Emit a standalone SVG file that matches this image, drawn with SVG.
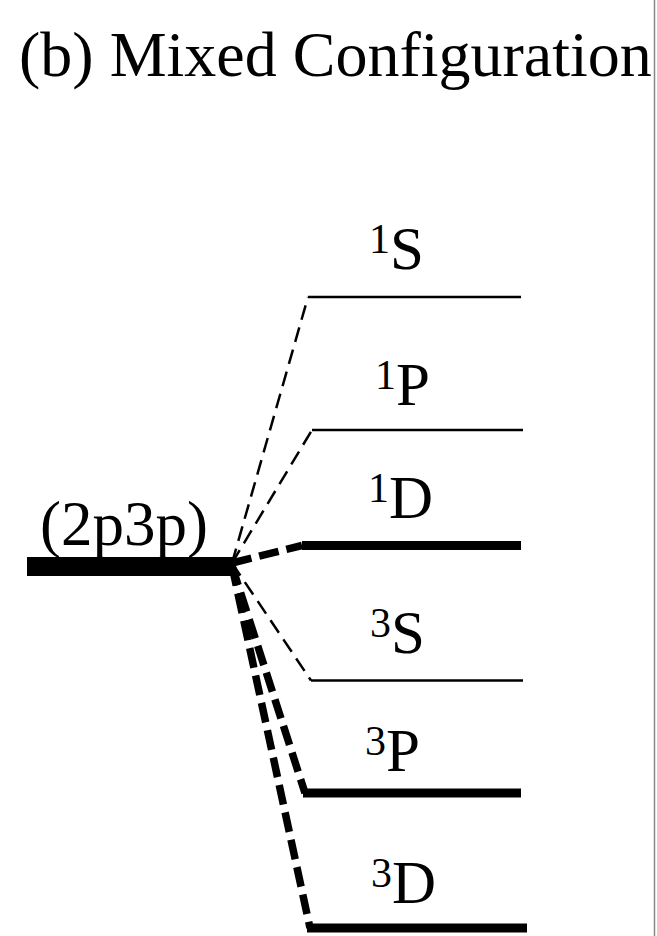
<svg xmlns="http://www.w3.org/2000/svg" width="657" height="936" viewBox="0 0 657 936">
<style>
text{font-family:"Liberation Serif","Times New Roman",serif;fill:#000}
.lbl{font-size:61px}
.sup{font-size:42px}
.thin{stroke:#000;stroke-width:2.5;fill:none}
.thick{stroke:#000;stroke-width:9;fill:none}
.dthin{stroke:#000;stroke-width:2.5;fill:none;stroke-dasharray:15 8}
.dthick{stroke:#000;stroke-width:7.5;fill:none;stroke-dasharray:20 8}
</style>
<rect width="657" height="936" fill="#fff"/>
<line x1="654.5" y1="0" x2="654.5" y2="936" stroke="#888" stroke-width="1.5"/>
<text id="title" x="19" y="76" font-size="64">(b) Mixed Configuration</text>
<g id="config">
<rect x="27" y="557" width="206" height="19" fill="#000"/>
<text x="40" y="545" font-size="63">(2p3p)</text>
</g>
<g id="level-1S">
<line class="thin" x1="308" y1="297" x2="521" y2="297"/>
<text class="lbl" x="369" y="269"><tspan class="sup" dy="-16">1</tspan><tspan dy="16">S</tspan></text>
</g>
<g id="level-1P">
<line class="thin" x1="312" y1="430" x2="523" y2="430"/>
<text class="lbl" x="375" y="405"><tspan class="sup" dy="-16">1</tspan><tspan dy="16">P</tspan></text>
</g>
<g id="level-1D">
<line class="thick" x1="302" y1="545.5" x2="521" y2="545.5"/>
<text class="lbl" x="368" y="518"><tspan class="sup" dy="-16">1</tspan><tspan dy="16">D</tspan></text>
</g>
<g id="level-3S">
<line class="thin" x1="311" y1="680.5" x2="523" y2="680.5"/>
<text class="lbl" x="370" y="653"><tspan class="sup" dy="-16">3</tspan><tspan dy="16">S</tspan></text>
</g>
<g id="level-3P">
<line class="thick" x1="303" y1="793" x2="521" y2="793"/>
<text class="lbl" x="365" y="771"><tspan class="sup" dy="-16">3</tspan><tspan dy="16">P</tspan></text>
</g>
<g id="level-3D">
<line class="thick" x1="307" y1="928" x2="527" y2="928"/>
<text class="lbl" x="371" y="903"><tspan class="sup" dy="-16">3</tspan><tspan dy="16">D</tspan></text>
</g>
<g id="connectors">
<line class="dthin" x1="232" y1="563" x2="308" y2="297"/>
<line class="dthin" x1="232" y1="563" x2="312" y2="430"/>
<line class="dthick" x1="232" y1="563" x2="302" y2="545.5"/>
<line class="dthin" x1="232" y1="563" x2="311" y2="680.5"/>
<line class="dthick" x1="232" y1="566" x2="305" y2="793"/>
<line class="dthick" x1="232" y1="566" x2="310" y2="928"/>
</g>
</svg>
